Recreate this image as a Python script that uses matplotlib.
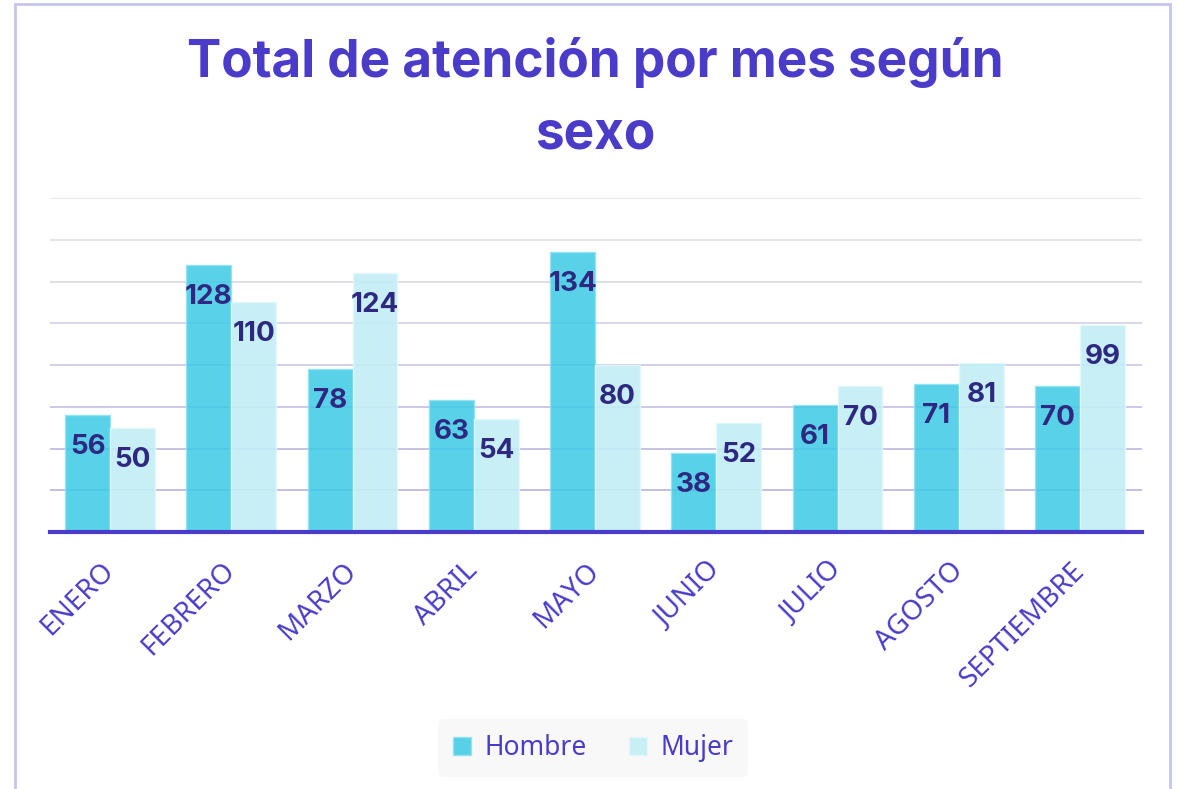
import matplotlib.pyplot as plt
import numpy as np
from matplotlib.patches import Rectangle

meses = ['ENERO', 'FEBRERO', 'MARZO', 'ABRIL', 'MAYO', 'JUNIO', 'JULIO', 'AGOSTO', 'SEPTIEMBRE']
hombre = [56, 128, 78, 63, 134, 38, 61, 71, 70]
mujer = [50, 110, 124, 54, 80, 52, 70, 81, 99]

purple = '#4a3cc8'
dark = '#2e2880'
c_h = '#3ccbe6'
c_m = '#c2eef5'

plt.rcParams['font.family'] = ['Noto Sans', 'DejaVu Sans']
bold_font = ['Inter', 'DejaVu Sans']

fig = plt.figure(figsize=(11.84, 7.89), dpi=100)
ax = fig.add_axes([50/1184, 1-532/789, 1092/1184, 334/789])

x = np.arange(len(meses))
w = 0.37
b1 = ax.bar(x - w/2, hombre, w, color=c_h, alpha=0.85, edgecolor='#8fe3f2', linewidth=1, label='Hombre', zorder=2)
b2 = ax.bar(x + w/2, mujer, w, color=c_m, alpha=0.9, edgecolor='#e2f8fb', linewidth=1, label='Mujer', zorder=2)

for bars in (b1, b2):
    for r in bars:
        ax.annotate(str(int(r.get_height())), (r.get_x() + r.get_width()/2, r.get_height()),
                    xytext=(0, -32), textcoords='offset pixels', ha='center', va='center',
                    fontsize=20, fontweight='bold', family=bold_font, color=dark, zorder=3)

# gridlines, gray at the top fading to lavender near the base
grid_cols = ['#b9b1dc', '#bdb6de', '#c3bde0', '#cac5e2', '#d2cfe4', '#dad8e6', '#e0dfe8', '#e4e4ea']
for k, g in enumerate(range(20, 161, 20)):
    ax.axhline(g, color=grid_cols[k], linewidth=1.2, zorder=1)

ax.set_xlim(-0.495, 8.51)
ax.set_ylim(0, 160)
ax.set_yticks([])
for s in ['top', 'right', 'left']:
    ax.spines[s].set_visible(False)
ax.spines['bottom'].set_color(purple)
ax.spines['bottom'].set_linewidth(3)
ax.spines['bottom'].set_zorder(4)

ax.set_xticks(x)
ax.set_xticklabels(meses, rotation=45, ha='right', va='center', rotation_mode='anchor',
                   fontsize=20, color=purple)
ax.tick_params(axis='x', length=0, pad=25)

fig.text(595/1184, 1-63/789, 'Total de atención por mes según', ha='center', va='center',
         fontsize=37, fontweight='bold', family=bold_font, color=purple)
fig.text(595/1184, 1-135/789, 'sexo', ha='center', va='center',
         fontsize=37, fontweight='bold', family=bold_font, color=purple)

leg = fig.legend(handles=[b1, b2], loc='center', bbox_to_anchor=(593/1184, 1-748/789),
                 ncol=2, frameon=True, fontsize=19, handlelength=0.7, handleheight=0.7,
                 columnspacing=1.6, handletextpad=0.5, borderpad=0.55)
leg.get_frame().set_facecolor('#f7f7f7')
leg.get_frame().set_edgecolor('none')
for t in leg.get_texts():
    t.set_color(purple)

fig.patches.append(Rectangle((15/1184, -0.05), 1155/1184, 1.05 - 4/789, transform=fig.transFigure,
                             fill=False, edgecolor='#c8c4f0', linewidth=2))

fig.savefig('out.png', dpi=100)
